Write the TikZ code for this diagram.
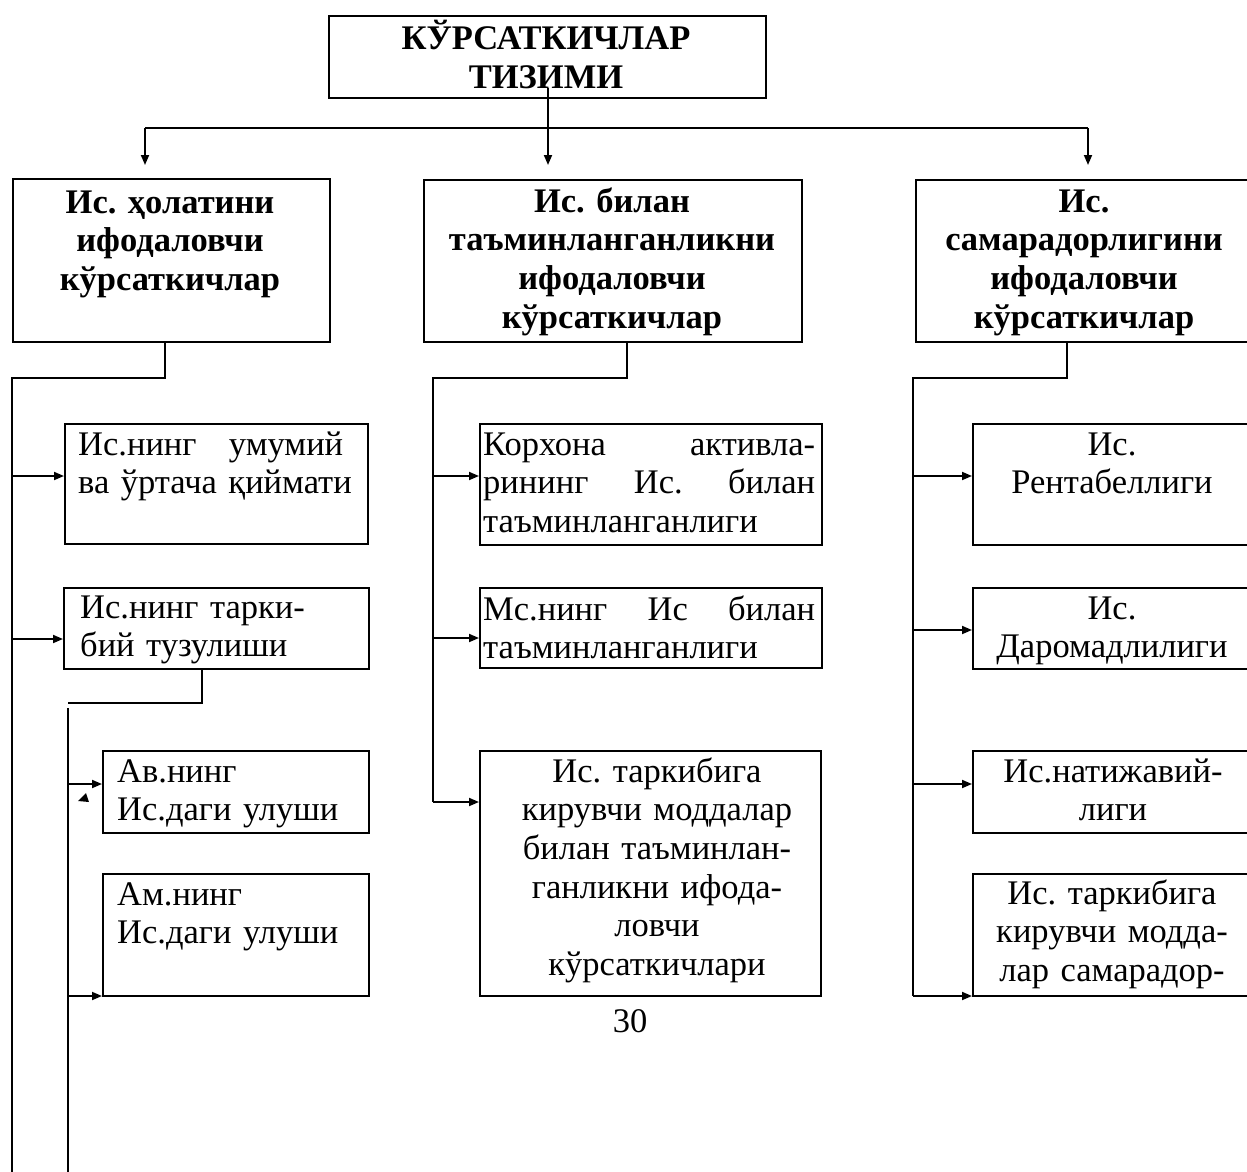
\documentclass[tikz,border=0pt]{standalone}
\usepackage{fontspec}
\setmainfont{Liberation Serif}
\usetikzlibrary{arrows.meta}
\begin{document}
\frenchspacing
\begin{tikzpicture}[x=1pt,y=-1pt,
  boxst/.style={draw, line width=2pt, inner sep=0pt, anchor=north west},
  txt/.style={inner sep=0pt, font=\fontsize{34.5}{38.7}\selectfont\frenchspacing},
  btxt/.style={inner sep=0pt, font=\fontsize{34.5}{38.7}\selectfont\bfseries\frenchspacing},
  conn/.style={line width=2pt},
  arr/.style={line width=1.8pt, -{Triangle[length=10pt,width=8pt]}}]
\useasboundingbox (0,0) rectangle (1247,1172);
\clip (0,0) rectangle (1247,1172);

% boxes
\node[boxst, minimum width=437pt, minimum height=82pt] (top) at (328,15) {};
\node[boxst, minimum width=317pt, minimum height=163pt] (hL) at (12,178) {};
\node[boxst, minimum width=378pt, minimum height=162pt] (hM) at (423,179) {};
\node[boxst, minimum width=338pt, minimum height=162pt] (hR) at (915,179) {};
\node[boxst, minimum width=303pt, minimum height=120pt] (L1) at (64,423) {};
\node[boxst, minimum width=305pt, minimum height=81pt] (L2) at (63,587) {};
\node[boxst, minimum width=266pt, minimum height=82pt] (L3) at (102,750) {};
\node[boxst, minimum width=266pt, minimum height=122pt] (L4) at (102,873) {};
\node[boxst, minimum width=342pt, minimum height=121pt] (M1) at (479,423) {};
\node[boxst, minimum width=342pt, minimum height=80pt] (M2) at (479,587) {};
\node[boxst, minimum width=341pt, minimum height=245pt] (M3) at (479,750) {};
\node[boxst, minimum width=280pt, minimum height=121pt] (R1) at (972,423) {};
\node[boxst, minimum width=280pt, minimum height=81pt] (R2) at (972,587) {};
\node[boxst, minimum width=280pt, minimum height=82pt] (R3) at (972,750) {};
\node[boxst, minimum width=280pt, minimum height=122pt] (R4) at (972,873) {};

% texts
\node[btxt, align=center, text width=440pt, anchor=base] (topt) at (546,50) {КЎРСАТКИЧЛАР\\ТИЗИМИ};
\node[btxt, align=center, text width=310pt, anchor=base] (hLt) at (170,213) {Ис. ҳолатини\\ифодаловчи\\кўрсаткичлар};
\node[btxt, align=center, text width=370pt, anchor=base] (hMt) at (612,212) {Ис. билан\\таъминланганликни\\ифодаловчи\\кўрсаткичлар};
\node[btxt, align=center, text width=336pt, anchor=base] (hRt) at (1084,212) {Ис.\\самарадорлигини\\ифодаловчи\\кўрсаткичлар};

\node[txt, align=left, text width=285pt, anchor=base west] (L1t) at (78,455) {\makebox[265pt][l]{Ис.нинг\hfill умумий}\\ва ўртача қиймати};
\node[txt, align=left, text width=280pt, anchor=base west] (L2t) at (80,618) {Ис.нинг тарки-\\бий тузулиши};
\node[txt, align=left, text width=245pt, anchor=base west] (L3t) at (117,782) {Ав.нинг\\Ис.даги улуши};
\node[txt, align=left, text width=245pt, anchor=base west] (L4t) at (117,905) {Ам.нинг\\Ис.даги улуши};

\node[txt, align=left, text width=332pt, anchor=base west] (M1t) at (483,455) {Корхона\hfill активла-\\рининг\hfill Ис.\hfill билан\\таъминланганлиги};
\node[txt, align=left, text width=332pt, anchor=base west] (M2t) at (483,620) {Мс.нинг\hfill Ис\hfill билан\\таъминланганлиги};
\node[txt, align=center, text width=336pt, anchor=base] (M3t) at (657,782) {Ис. таркибига\\кирувчи моддалар\\билан таъминлан-\hspace*{76pt}\\ганликни ифода-\hspace*{52pt}\\ловчи\hspace*{20pt}\\кўрсаткичлари\hspace*{26pt}};

\node[txt, align=center, text width=270pt, anchor=base] (R1t) at (1112,455) {Ис.\\Рентабеллиги};
\node[txt, align=center, text width=270pt, anchor=base] (R2t) at (1112,619) {Ис.\\Даромадлилиги};
\node[txt, align=center, text width=270pt, anchor=base] (R3t) at (1113,782) {Ис.натижавий-\\лиги};
\node[txt, align=center, text width=270pt, anchor=base] (R4t) at (1112,904) {Ис. таркибига\\кирувчи модда-\\лар самарадор-};

\node[txt, anchor=base] (pg) at (630,1032) {30};

% top connectors
\coordinate (t0) at (548,88);
\coordinate (tA) at (548,165);
\coordinate (busL) at (145,128);
\coordinate (busR) at (1088,128);
\coordinate (aL) at (145,165);
\coordinate (aR) at (1088,165);
\draw[conn] (busL) -- (busR);
\draw[arr] (t0) -- (tA);
\draw[arr] (busL) -- (aL);
\draw[arr] (busR) -- (aR);

% left column
\coordinate (l0) at (165,378);
\coordinate (l1) at (12,378);
\coordinate (lEnd) at (12,1175);
\draw[conn] (hL.south -| l0) -- (l0) -- (l1) -- (lEnd);
\coordinate (la1) at (12,476);
\coordinate (la2) at (12,639);
\draw[arr] (la1) -- (la1 -| L1.west);
\draw[arr] (la2) -- (la2 -| L2.west);
\coordinate (s0) at (202,703);
\coordinate (s1) at (68,703);
\coordinate (s2) at (68,708);
\coordinate (sEnd) at (68,1175);
\draw[conn] (L2.south -| s0) -- (s0) -- (s1);
\draw[conn] (s2) -- (sEnd);
\coordinate (sa1) at (68,784);
\coordinate (sa2) at (68,996);
\draw[arr] (sa1) -- (sa1 -| L3.west);
\draw[arr] (sa2) -- (sa2 -| L4.west);
\fill (78,801) -- (86,793) -- (89,802) -- cycle;

% middle column
\coordinate (m0) at (627,378);
\coordinate (m1) at (433,378);
\coordinate (m2) at (433,802);
\draw[conn] (hM.south -| m0) -- (m0) -- (m1) -- (m2);
\draw[arr] (m2) -- (m2 -| M3.west);
\coordinate (ma1) at (433,476);
\coordinate (ma2) at (433,638);
\draw[arr] (ma1) -- (ma1 -| M1.west);
\draw[arr] (ma2) -- (ma2 -| M2.west);

% right column
\coordinate (r0) at (1067,378);
\coordinate (r1) at (913,378);
\coordinate (r2) at (913,996);
\draw[conn] (hR.south -| r0) -- (r0) -- (r1) -- (r2);
\draw[arr] (r2) -- (r2 -| R4.west);
\coordinate (ra1) at (913,476);
\coordinate (ra2) at (913,630);
\coordinate (ra3) at (913,784);
\draw[arr] (ra1) -- (ra1 -| R1.west);
\draw[arr] (ra2) -- (ra2 -| R2.west);
\draw[arr] (ra3) -- (ra3 -| R3.west);
\end{tikzpicture}
\end{document}
